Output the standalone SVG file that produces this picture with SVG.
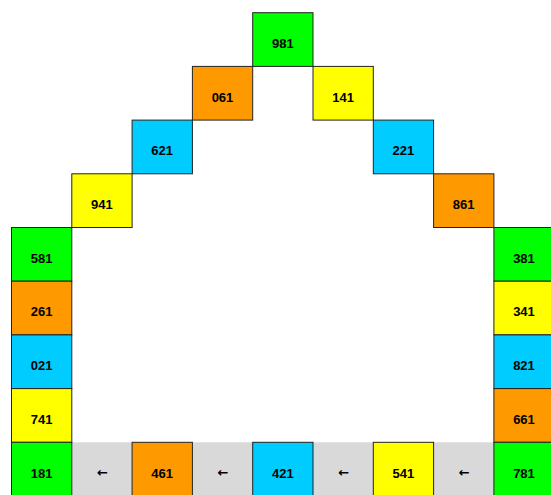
<svg xmlns="http://www.w3.org/2000/svg" width="551" height="495" viewBox="0 0 551 495">
<style>
.c{stroke:#222;stroke-width:1}
.g{fill:#00ff00}.o{fill:#ff9900}.y{fill:#ffff00}.b{fill:#00ccff}.gr{fill:#d9d9d9}
text{font-family:"Liberation Sans",Arial,sans-serif;font-weight:bold;font-size:13px;text-anchor:middle;dominant-baseline:central;fill:#000}
.a{font-family:"DejaVu Sans",sans-serif;font-size:13px}
</style>
<rect width="551" height="495" fill="#fff"/>
<g id="connectors">
<g id="arrow1"><rect class="gr" x="71.8" y="442.3" width="60.3" height="53.7"/><text class="a" x="102.5" y="472">←</text></g>
<g id="arrow2"><rect class="gr" x="192.4" y="442.3" width="60.3" height="53.7"/><text class="a" x="223" y="472">←</text></g>
<g id="arrow3"><rect class="gr" x="313" y="442.3" width="60.3" height="53.7"/><text class="a" x="343.6" y="472">←</text></g>
<g id="arrow4"><rect class="gr" x="433.6" y="442.3" width="60.3" height="53.7"/><text class="a" x="464.2" y="472">←</text></g>
</g>
<g id="n981"><rect class="c g" x="252.7" y="12.7" width="60.3" height="53.7"/><text x="282.8" y="43.3">981</text></g>
<g id="n061"><rect class="c o" x="192.4" y="66.4" width="60.3" height="53.7"/><text x="222.5" y="97">061</text></g>
<g id="n141"><rect class="c y" x="313" y="66.4" width="60.3" height="53.7"/><text x="343.1" y="97">141</text></g>
<g id="n621"><rect class="c b" x="132.1" y="120.1" width="60.3" height="53.7"/><text x="162.2" y="150.7">621</text></g>
<g id="n221"><rect class="c b" x="373.3" y="120.1" width="60.3" height="53.7"/><text x="403.4" y="150.7">221</text></g>
<g id="n941"><rect class="c y" x="71.8" y="173.8" width="60.3" height="53.7"/><text x="101.9" y="204.4">941</text></g>
<g id="n861"><rect class="c o" x="433.6" y="173.8" width="60.3" height="53.7"/><text x="463.7" y="204.4">861</text></g>
<g id="n581"><rect class="c g" x="11.5" y="227.5" width="60.3" height="53.7"/><text x="41.6" y="258.1">581</text></g>
<g id="n381"><rect class="c g" x="493.9" y="227.5" width="60.3" height="53.7"/><text x="524" y="258.1">381</text></g>
<g id="n261"><rect class="c o" x="11.5" y="281.2" width="60.3" height="53.7"/><text x="41.6" y="311.8">261</text></g>
<g id="n341"><rect class="c y" x="493.9" y="281.2" width="60.3" height="53.7"/><text x="524" y="311.8">341</text></g>
<g id="n021"><rect class="c b" x="11.5" y="334.9" width="60.3" height="53.7"/><text x="41.6" y="365.5">021</text></g>
<g id="n821"><rect class="c b" x="493.9" y="334.9" width="60.3" height="53.7"/><text x="524" y="365.5">821</text></g>
<g id="n741"><rect class="c y" x="11.5" y="388.6" width="60.3" height="53.7"/><text x="41.6" y="419.2">741</text></g>
<g id="n661"><rect class="c o" x="493.9" y="388.6" width="60.3" height="53.7"/><text x="524" y="419.2">661</text></g>
<g id="n181"><rect class="c g" x="11.5" y="442.3" width="60.3" height="53.7"/><text x="41.6" y="473">181</text></g>
<g id="n461"><rect class="c o" x="132.1" y="442.3" width="60.3" height="53.7"/><text x="162.2" y="473">461</text></g>
<g id="n421"><rect class="c b" x="252.7" y="442.3" width="60.3" height="53.7"/><text x="282.8" y="473">421</text></g>
<g id="n541"><rect class="c y" x="373.3" y="442.3" width="60.3" height="53.7"/><text x="403.4" y="473">541</text></g>
<g id="n781"><rect class="c g" x="493.9" y="442.3" width="60.3" height="53.7"/><text x="524" y="473">781</text></g>
</svg>
